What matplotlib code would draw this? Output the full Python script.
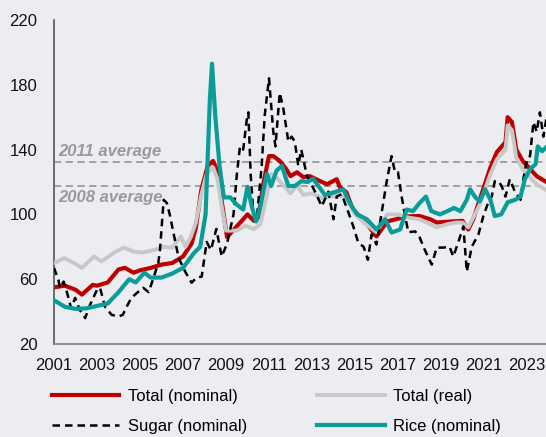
import matplotlib.pyplot as plt

# Index values (year as decimal, index value)
nominal_years = [2001.0, 2001.5, 2002.0, 2002.3, 2002.8, 2003.0, 2003.5, 2004.0, 2004.3, 2004.7,
                 2005.0, 2005.5, 2006.0, 2006.5, 2007.0, 2007.4, 2007.6, 2007.85, 2008.15, 2008.4,
                 2008.6, 2008.8, 2009.05, 2009.5, 2009.8, 2010.0, 2010.3, 2010.5, 2010.75, 2011.0,
                 2011.2, 2011.5, 2011.8, 2012.0, 2012.3, 2012.6, 2012.9, 2013.3, 2013.7, 2014.15,
                 2014.3, 2014.6, 2014.9, 2015.5, 2016.0, 2016.5, 2016.9, 2017.4, 2018.0, 2018.5,
                 2018.8, 2019.55, 2020.0, 2020.27, 2020.5, 2020.8, 2021.3, 2021.6, 2022.0, 2022.1,
                 2022.3, 2022.5, 2022.8, 2023.15, 2023.45, 2023.9]
nominal_vals = [55, 56, 53.5, 50.5, 56.5, 56, 58, 66, 67, 64,
                65.5, 67, 69, 70, 74, 82, 92, 115, 130, 133,
                127, 108, 86, 92.6, 97, 100, 96, 98, 120, 136,
                136, 133, 128, 123.6, 126, 123, 123.6, 121, 118.6, 121.7,
                116.7, 113.6, 103, 95, 86.4, 95.7, 97, 98.8, 99, 97,
                95, 95.7, 96, 90.7, 97, 109, 129, 138.5, 144.6, 160,
                157, 140, 133, 128, 123.6, 120]

real_years = [2001.0, 2001.47, 2001.93, 2002.3, 2002.86, 2003.2, 2003.87, 2004.26, 2004.72, 2005.1,
              2005.65, 2006.1, 2006.5, 2006.9, 2007.12, 2007.36, 2007.6, 2007.85, 2008.1, 2008.4,
              2008.6, 2008.8, 2009.0, 2009.5, 2009.9, 2010.3, 2010.6, 2010.9, 2011.1, 2011.4,
              2011.8, 2012.0, 2012.3, 2012.6, 2013.0, 2013.5, 2014.2, 2014.6, 2015.0, 2015.5,
              2016.0, 2016.5, 2017.0, 2017.5, 2018.0, 2018.5, 2018.8, 2019.3, 2019.7, 2020.0,
              2020.27, 2020.8, 2021.3, 2021.6, 2022.0, 2022.1, 2022.3, 2022.5, 2022.8, 2023.2,
              2023.5, 2023.9]
real_vals = [70, 73, 70, 67, 74, 71, 77, 79.5, 77, 76.4,
             78, 80, 79.5, 86.4, 80, 86, 95, 112, 125, 129,
             122, 105, 90, 90, 93, 91, 94, 112, 125, 122,
             116, 113, 118, 112, 113, 110, 112, 110, 100, 94,
             89, 100, 100, 98, 97, 94, 92, 94, 95, 95,
             92, 106, 125, 134, 140, 155, 152, 135, 128, 122,
             118, 115]

sugar_years = [2001.0, 2001.2, 2001.28, 2001.45, 2001.6, 2001.8, 2001.98, 2002.2, 2002.45, 2002.67,
               2003.0, 2003.14, 2003.37, 2003.68, 2004.0, 2004.2, 2004.38, 2004.6, 2004.9, 2005.15,
               2005.4, 2005.6, 2005.85, 2005.93, 2006.1, 2006.25, 2006.4, 2006.55, 2006.8, 2007.1,
               2007.4, 2007.63, 2007.87, 2008.1, 2008.3, 2008.55, 2008.8, 2009.05, 2009.35, 2009.5,
               2009.65, 2009.8, 2009.96, 2010.04, 2010.15, 2010.27, 2010.43, 2010.66, 2010.8, 2011.0,
               2011.2, 2011.3, 2011.5, 2011.67, 2011.9, 2012.05, 2012.2, 2012.36, 2012.5, 2012.76,
               2013.2, 2013.45, 2013.76, 2014.0, 2014.15, 2014.38, 2014.7, 2014.92, 2015.15, 2015.4,
               2015.6, 2015.77, 2016.0, 2016.24, 2016.47, 2016.7, 2016.86, 2017.0, 2017.17, 2017.33,
               2017.48, 2017.8, 2018.0, 2018.25, 2018.57, 2018.8, 2019.1, 2019.4, 2019.57, 2019.8,
               2020.04, 2020.2, 2020.43, 2020.74, 2020.97, 2021.2, 2021.36, 2021.5, 2021.67, 2021.82,
               2022.0, 2022.2, 2022.45, 2022.7, 2022.83, 2023.0, 2023.14, 2023.3, 2023.45, 2023.6,
               2023.76, 2023.9]
sugar_vals = [67, 59.7, 54.7, 58.5, 52, 42, 48.5, 41, 36, 44,
              53.5, 54.7, 43, 38, 37, 38, 43, 48.5, 52, 54.7,
              52, 59.7, 70, 78, 109, 107, 99, 89, 73, 64.7,
              57.8, 61, 61.6, 83, 78, 91, 74, 82, 100, 124,
              142, 140, 158, 163, 124, 101, 97, 130, 161, 184,
              151, 142, 175, 165, 145, 148, 145, 130, 140, 124,
              112.5, 105, 114, 97, 111, 112.5, 101, 92.6, 82.6, 80,
              72, 87.6, 81.4, 101, 120, 136, 126, 126, 111, 99,
              89, 89.5, 86, 78, 69, 79.5, 79.5, 80, 74, 82.6,
              92.6, 64.7, 80, 87.6, 99, 107.5, 111, 120.5, 120.5, 117.5,
              111, 121.7, 113.6, 109, 121.7, 134, 136, 157, 151, 163,
              148, 159]

rice_years = [2001.0, 2001.5, 2002.0, 2002.5, 2003.0, 2003.5, 2004.0, 2004.5, 2004.8, 2005.2,
              2005.5, 2006.0, 2006.5, 2007.0, 2007.5, 2007.8, 2008.05, 2008.25, 2008.35, 2008.5,
              2008.7, 2008.9, 2009.2, 2009.5, 2009.8, 2010.0, 2010.2, 2010.4, 2010.6, 2010.9,
              2011.1, 2011.35, 2011.6, 2011.9, 2012.2, 2012.5, 2012.8, 2013.05, 2013.6, 2014.0,
              2014.45, 2014.8, 2015.1, 2015.55, 2016.0, 2016.4, 2016.7, 2017.1, 2017.4, 2017.7,
              2018.0, 2018.3, 2018.55, 2018.95, 2019.3, 2019.6, 2019.9, 2020.2, 2020.35, 2020.6,
              2020.8, 2021.05, 2021.3, 2021.5, 2021.8, 2022.1, 2022.45, 2022.7, 2022.9, 2023.15,
              2023.4, 2023.5, 2023.7, 2023.9]
rice_vals = [47, 43, 41.7, 42, 43.5, 45, 52, 60, 58, 64,
             61, 61, 63.5, 67, 76, 80, 100, 171, 193, 161,
             130, 110.5, 110.5, 106, 103, 117, 105, 95.6, 105, 125,
             117.5, 127, 130, 117.5, 117.5, 120.5, 120, 122, 112, 113.5,
             115.5, 106, 100, 97, 90.7, 97, 88.8, 90.7, 103, 102,
             107, 111, 102, 100, 102, 104, 102, 109, 115.5, 110.5,
             108, 115.5, 109, 99, 100, 107.5, 109, 111, 121.7, 128,
             131, 142, 139, 141.5]

avg_2011 = 132.2
avg_2008 = 117.4
year_ticks = list(range(2001, 2024, 2))
value_ticks = [20, 60, 100, 140, 180, 220]

bg = '#ebedf0'
plt.rcParams['font.family'] = ['Liberation Sans', 'DejaVu Sans']

fig = plt.figure(figsize=(5.46, 4.37), dpi=100, facecolor=bg)
ax = fig.add_axes([54 / 546, 1 - 344 / 437, 1 - 54 / 546, (344 - 20) / 437])
ax.set_facecolor(bg)

ax.axhline(avg_2011, color='#9a9a9a', lw=1.3, ls=(0, (4, 2.5)), zorder=1)
ax.axhline(avg_2008, color='#9a9a9a', lw=1.3, ls=(0, (4, 2.5)), zorder=1)
ax.text(2001.2, avg_2011 + 2, '2011 average', color='#9a9a9a', fontsize=12,
        fontstyle='italic', fontweight='bold', va='bottom', ha='left')
ax.text(2001.2, avg_2008 - 2.5, '2008 average', color='#9a9a9a', fontsize=12,
        fontstyle='italic', fontweight='bold', va='top', ha='left')

l_nom, = ax.plot(nominal_years, nominal_vals, color='#c00000', lw=3, label='Total (nominal)', zorder=2)
l_real, = ax.plot(real_years, real_vals, color='#c8c8c8', lw=2.8, label='Total (real)', zorder=3)
l_sugar, = ax.plot(sugar_years, sugar_vals, color='black', lw=1.8, ls=(0, (3, 2)),
                   label='Sugar (nominal)', zorder=4)
l_rice, = ax.plot(rice_years, rice_vals, color='#0a9c98', lw=3, label='Rice (nominal)', zorder=5)

ax.set_xlim(2001, 2001 + 492 / 21.5)
ax.set_ylim(20, 220)
ax.set_xticks(year_ticks)
ax.set_yticks(value_ticks)
ax.tick_params(axis='both', length=0, labelsize=12, colors='#111111')
ax.tick_params(axis='y', pad=12)
ax.tick_params(axis='x', pad=10)
for side in ['top', 'right']:
    ax.spines[side].set_visible(False)
ax.spines['left'].set_color('#555555')
ax.spines['left'].set_linewidth(1.2)
ax.spines['bottom'].set_color('#808080')
ax.spines['bottom'].set_linewidth(1.2)

fig.legend(handles=[l_nom, l_sugar, l_real, l_rice], ncol=2, frameon=False,
           loc='upper left', bbox_to_anchor=(52 / 546, 1 - 389 / 437), fontsize=12,
           handlelength=4.05, handletextpad=0.5, columnspacing=4.2, labelspacing=0.88,
           borderaxespad=0, borderpad=0)

fig.savefig('out.png', dpi=100, facecolor=bg)
